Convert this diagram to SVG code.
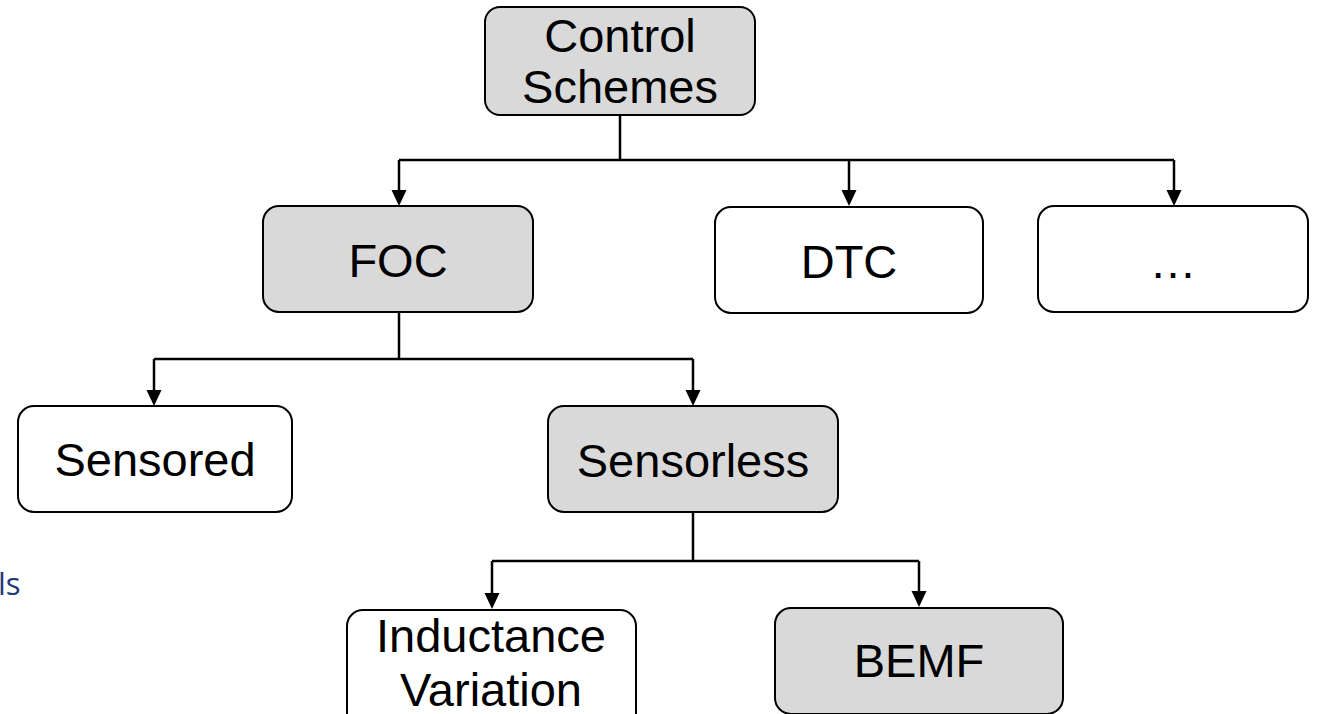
<svg xmlns="http://www.w3.org/2000/svg" width="1318" height="714" viewBox="0 0 1318 714">
  <style>
    .box { stroke: #000; stroke-width: 2; }
    .grey { fill: #D9D9D9; }
    .white { fill: #FFFFFF; }
    .label { font-family: "Liberation Sans", Arial, sans-serif; font-size: 47px; fill: #000; text-anchor: middle; }
    .wire { fill: none; stroke: #000; stroke-width: 2.5; }
    .note { font-family: "Open Sans", "Liberation Sans", sans-serif; font-size: 31px; fill: #1F3A7A; }
  </style>
  <defs>
    <!-- arrowhead: tip sits on the line end -->
    <marker id="arrow" viewBox="0 0 15 17" refX="7.5" refY="15" markerWidth="15" markerHeight="17" markerUnits="userSpaceOnUse" orient="auto">
      <path d="M0,0 L15,8.5 L0,17 Z" transform="rotate(0)" fill="#000"/>
    </marker>
  </defs>
  <rect width="1318" height="714" fill="#FFFFFF"/>

  <g id="connectors">
    <!-- Control Schemes fan-out -->
    <path class="wire" d="M620,115 V160"/>
    <path class="wire" d="M399,160 H1174"/>
    <line class="wire" x1="399" y1="160" x2="399" y2="192"/>
    <path d="M391.5,190 L406.5,190 L399,206 Z"/>
    <line class="wire" x1="849" y1="160" x2="849" y2="192"/>
    <path d="M841.5,190 L856.5,190 L849,206 Z"/>
    <line class="wire" x1="1174" y1="160" x2="1174" y2="192"/>
    <path d="M1166.5,190 L1181.5,190 L1174,206 Z"/>

    <!-- FOC fan-out -->
    <path class="wire" d="M399,312 V359"/>
    <path class="wire" d="M154,359 H693"/>
    <line class="wire" x1="154" y1="359" x2="154" y2="392"/>
    <path d="M146.5,390 L161.5,390 L154,406 Z"/>
    <line class="wire" x1="693" y1="359" x2="693" y2="392"/>
    <path d="M685.5,390 L700.5,390 L693,406 Z"/>

    <!-- Sensorless fan-out -->
    <path class="wire" d="M693,512 V561"/>
    <path class="wire" d="M492,561 H919"/>
    <line class="wire" x1="492" y1="561" x2="492" y2="594"/>
    <path d="M484.5,593 L499.5,593 L492,609 Z"/>
    <line class="wire" x1="919" y1="561" x2="919" y2="592"/>
    <path d="M911.5,591 L926.5,591 L919,607 Z"/>
  </g>

  <g id="control-schemes">
    <rect class="box grey" x="485" y="7" width="270" height="108" rx="15"/>
    <text class="label" x="620" y="52">Control</text>
    <text class="label" x="620" y="103">Schemes</text>
  </g>

  <g id="foc">
    <rect class="box grey" x="263" y="206" width="270" height="106" rx="16"/>
    <text class="label" x="398" y="277">FOC</text>
  </g>

  <g id="dtc">
    <rect class="box white" x="715" y="207" width="268" height="106" rx="16"/>
    <text class="label" x="849" y="278">DTC</text>
  </g>

  <g id="others">
    <rect class="box white" x="1038" y="206" width="270" height="106" rx="16"/>
    <text class="label" x="1173" y="278">…</text>
  </g>

  <g id="sensored">
    <rect class="box white" x="18" y="406" width="274" height="106" rx="16"/>
    <text class="label" x="155" y="476">Sensored</text>
  </g>

  <g id="sensorless">
    <rect class="box grey" x="548" y="406" width="290" height="106" rx="16"/>
    <text class="label" x="693" y="477">Sensorless</text>
  </g>

  <g id="inductance-variation">
    <rect class="box white" x="347" y="610" width="289" height="120" rx="16"/>
    <text class="label" x="491" y="652">Inductance</text>
    <text class="label" x="491" y="706">Variation</text>
  </g>

  <g id="bemf">
    <rect class="box grey" x="775" y="608" width="288" height="106" rx="16"/>
    <text class="label" x="919" y="677">BEMF</text>
  </g>

  <text class="note" x="-2" y="595">ls</text>
</svg>
